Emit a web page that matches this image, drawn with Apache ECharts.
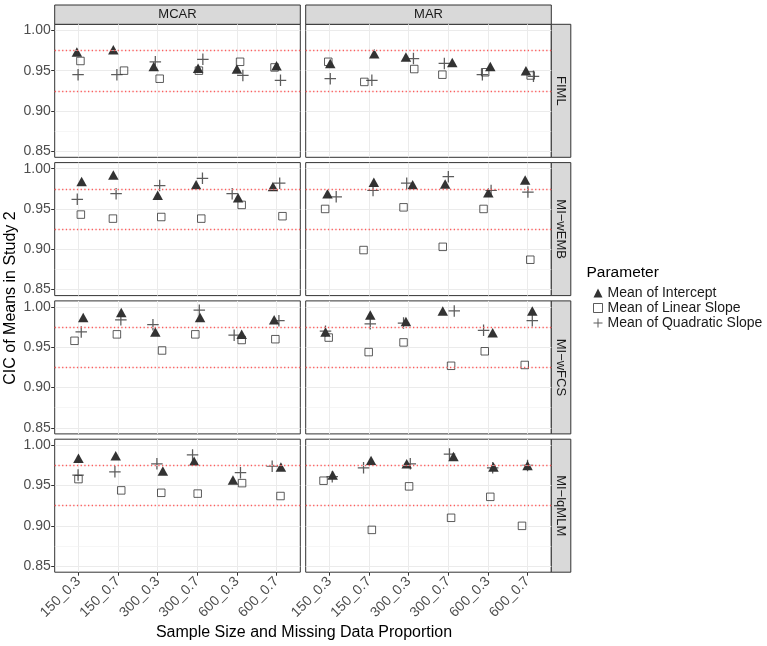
<!DOCTYPE html>
<html>
<head>
<meta charset="utf-8">
<script src="https://cdn.jsdelivr.net/npm/echarts@6/dist/echarts.min.js"></script>
<style>
  html, body { margin: 0; padding: 0; background: #fff; }
  #main { width: 767px; height: 646px; }
</style>
</head>
<body>
<div id="main"></div>
<script>
// x categories and facet labels
var categories = ['150_0.3', '150_0.7', '300_0.3', '300_0.7', '600_0.3', '600_0.7'];
var mechanisms = ['MCAR', 'MAR'];
var methods = ['FIML', 'MI\u2212wEMB', 'MI\u2212wFCS', 'MI\u2212lqMLM'];
var paramNames = ['Mean of Intercept', 'Mean of Linear Slope', 'Mean of Quadratic Slope'];
var yTicks = [0.85, 0.90, 0.95, 1.00];
var minorTicks = [0.875, 0.925, 0.975];
var refLines = [0.975, 0.925];

// one row per panel: FIML-MCAR, FIML-MAR, wEMB-MCAR, wEMB-MAR, wFCS-MCAR, wFCS-MAR, lqMLM-MCAR, lqMLM-MAR
var interceptValues = [
  [0.973, 0.976, 0.955, 0.953, 0.952, 0.956],
  [0.959, 0.971, 0.967, 0.960, 0.955, 0.950],
  [0.984, 0.992, 0.967, 0.980, 0.964, 0.978],
  [0.969, 0.983, 0.980, 0.981, 0.970, 0.986],
  [0.987, 0.993, 0.969, 0.987, 0.966, 0.984],
  [0.969, 0.990, 0.982, 0.995, 0.968, 0.995],
  [0.984, 0.987, 0.968, 0.980, 0.957, 0.973],
  [0.963, 0.981, 0.977, 0.986, 0.973, 0.975]
];
var linearValues = [
  [0.962, 0.950, 0.940, 0.950, 0.961, 0.954],
  [0.961, 0.936, 0.952, 0.945, 0.948, 0.944],
  [0.943, 0.938, 0.940, 0.938, 0.955, 0.941],
  [0.950, 0.899, 0.952, 0.903, 0.950, 0.887],
  [0.958, 0.966, 0.946, 0.966, 0.959, 0.960],
  [0.962, 0.944, 0.956, 0.927, 0.945, 0.928],
  [0.958, 0.944, 0.941, 0.940, 0.953, 0.937],
  [0.956, 0.895, 0.949, 0.910, 0.936, 0.900]
];
var quadraticValues = [
  [0.945, 0.945, 0.961, 0.964, 0.944, 0.938],
  [0.940, 0.938, 0.965, 0.959, 0.945, 0.943],
  [0.962, 0.969, 0.979, 0.988, 0.969, 0.982],
  [0.965, 0.973, 0.982, 0.990, 0.973, 0.971],
  [0.969, 0.984, 0.978, 0.996, 0.965, 0.983],
  [0.970, 0.979, 0.980, 0.995, 0.971, 0.983],
  [0.963, 0.967, 0.977, 0.988, 0.966, 0.974],
  [0.961, 0.972, 0.977, 0.989, 0.972, 0.975]
];

// horizontal jitter of each point (category units)
var interceptJitter = [
  [-0.04, -0.12, -0.10, 0.02, 0.00, 0.00],
  [0.02, 0.13, -0.07, 0.10, 0.06, -0.04],
  [0.08, -0.12, 0.00, -0.03, 0.03, -0.09],
  [-0.05, 0.12, 0.10, -0.08, 0.01, -0.06],
  [0.12, 0.08, -0.06, 0.07, 0.12, -0.06],
  [-0.10, 0.03, -0.07, -0.14, 0.12, 0.12],
  [0.00, -0.06, 0.13, -0.08, -0.10, 0.11],
  [0.08, 0.05, -0.05, 0.13, 0.14, 0.00]
];
var linearJitter = [
  [0.05, 0.15, 0.05, 0.04, 0.08, -0.05],
  [-0.03, -0.12, 0.14, -0.15, -0.07, 0.08],
  [0.06, -0.13, 0.09, 0.10, 0.12, 0.15],
  [-0.11, -0.14, -0.13, -0.14, -0.11, 0.07],
  [-0.10, -0.03, 0.11, -0.05, 0.12, -0.03],
  [-0.02, -0.01, -0.13, 0.07, -0.08, -0.07],
  [0.00, 0.08, 0.09, 0.01, 0.13, 0.10],
  [-0.15, 0.07, 0.01, 0.07, 0.06, -0.14]
];
var quadraticJitter = [
  [-0.01, -0.03, -0.06, 0.14, 0.15, 0.10],
  [0.02, 0.07, 0.12, -0.10, -0.14, 0.15],
  [-0.03, -0.05, 0.05, 0.13, -0.12, 0.08],
  [0.17, 0.10, -0.05, 0.00, 0.08, 0.01],
  [0.07, 0.07, -0.12, 0.05, -0.07, 0.06],
  [-0.10, 0.03, -0.13, 0.15, -0.11, 0.12],
  [-0.01, -0.08, -0.02, -0.12, 0.09, -0.11],
  [0.07, -0.14, 0.04, 0.03, 0.12, 0.00]
];

var FONT = '"Liberation Sans", Arial, Helvetica, sans-serif';
var PLUS = 'path://M4.45,0H5.55V4.45H10V5.55H5.55V10H4.45V5.55H0V4.45H4.45Z';

var colLeft = [54.7, 305.7];
var colWidth = 245.6;
var rowTop = [24.3, 162.6, 300.9, 439.2];
var rowHeight = 133;

var markers = [
  { symbol: 'triangle', symbolSize: [10.5, 9.5], itemStyle: { color: '#000' } },
  { symbol: 'rect', symbolSize: 7.5, itemStyle: { color: 'rgba(255,255,255,0)', borderColor: '#333', borderWidth: 1 } },
  { symbol: PLUS, symbolSize: 11.5, itemStyle: { color: '#333' } }
];
var valueSets = [interceptValues, linearValues, quadraticValues];
var jitterSets = [interceptJitter, linearJitter, quadraticJitter];
var xPos = categories.map(function (c, i) { return i + 1; });

var grids = [], xAxes = [], yAxes = [], series = [], graphics = [];

function hLines(values) {
  return values.map(function (v) { return { yAxis: v }; });
}

for (var r = 0; r < methods.length; r++) {
  for (var c = 0; c < mechanisms.length; c++) {
    var idx = r * 2 + c;
    grids.push({
      left: colLeft[c], top: rowTop[r], width: colWidth, height: rowHeight,
      show: true, backgroundColor: '#fff', borderColor: '#333', borderWidth: 1
    });
    xAxes.push({
      gridIndex: idx, type: 'value', min: 0.4, max: 6.6,
      axisLine: { show: false },
      axisTick: { show: r === 3, customValues: xPos, length: 3.5, lineStyle: { color: '#333' } },
      axisLabel: {
        show: r === 3, customValues: xPos, rotate: 45, margin: 7,
        fontSize: 14, color: '#4D4D4D', fontFamily: FONT,
        formatter: function (v) { return categories[Math.round(v) - 1]; }
      },
      splitLine: { show: true, lineStyle: { color: '#EBEBEB', width: 1 } }
    });
    yAxes.push({
      gridIndex: idx, type: 'value', min: 0.8425, max: 1.0075,
      axisLine: { show: false },
      axisTick: { show: c === 0, customValues: yTicks, length: 3.5, lineStyle: { color: '#333' } },
      axisLabel: {
        show: c === 0, customValues: yTicks, margin: 4,
        fontSize: 14, color: '#4D4D4D', fontFamily: FONT,
        formatter: function (v) { return v.toFixed(2); }
      },
      splitLine: { show: true, lineStyle: { color: '#EBEBEB', width: 1 } }
    });

    // minor grid lines
    series.push({
      type: 'scatter', xAxisIndex: idx, yAxisIndex: idx, data: [], silent: true, z: 1,
      markLine: {
        silent: true, symbol: 'none', animation: false, precision: 4, label: { show: false },
        lineStyle: { color: '#F0F0F0', width: 0.6, type: 'solid' },
        emphasis: { disabled: true },
        data: hLines(minorTicks)
      }
    });
    // red dotted reference lines
    series.push({
      type: 'scatter', xAxisIndex: idx, yAxisIndex: idx, data: [], silent: true, z: 2,
      markLine: {
        silent: true, symbol: 'none', animation: false, precision: 4, label: { show: false },
        lineStyle: { color: '#FF2A2A', width: 1.3, type: [1.3, 2.4], opacity: 0.75 },
        emphasis: { disabled: true },
        data: hLines(refLines)
      }
    });

    for (var k = 0; k < 3; k++) {
      var vals = valueSets[k][idx], jit = jitterSets[k][idx];
      series.push({
        name: paramNames[k], type: 'scatter', xAxisIndex: idx, yAxisIndex: idx, z: 3,
        symbol: markers[k].symbol, symbolSize: markers[k].symbolSize,
        itemStyle: markers[k].itemStyle,
        data: vals.map(function (v, i) { return [i + 1 + jit[i], v]; })
      });
    }
  }
}

// facet strips on top
mechanisms.forEach(function (m, c) {
  graphics.push({
    type: 'rect', shape: { x: colLeft[c], y: 5, width: colWidth, height: 19.3 },
    style: { fill: '#D9D9D9', stroke: '#333', lineWidth: 1 }
  });
  graphics.push({
    type: 'text', x: colLeft[c] + colWidth / 2, y: 14.8,
    style: { text: m, fill: '#1A1A1A', font: '13px ' + FONT, align: 'center', verticalAlign: 'middle' }
  });
});
// facet strips on the right
methods.forEach(function (m, r) {
  graphics.push({
    type: 'rect', shape: { x: 551.3, y: rowTop[r], width: 19.5, height: rowHeight },
    style: { fill: '#D9D9D9', stroke: '#333', lineWidth: 1 }
  });
  graphics.push({
    type: 'text', x: 561, y: rowTop[r] + rowHeight / 2, rotation: -Math.PI / 2,
    style: { text: m, fill: '#1A1A1A', font: '13px ' + FONT, align: 'center', verticalAlign: 'middle' }
  });
});
// axis titles
graphics.push({
  type: 'text', x: 304, y: 633,
  style: { text: 'Sample Size and Missing Data Proportion', fill: '#000', font: '16px ' + FONT, align: 'center', verticalAlign: 'middle' }
});
graphics.push({
  type: 'text', x: 11, y: 298, rotation: Math.PI / 2,
  style: { text: 'CIC of Means in Study 2', fill: '#000', font: '16px ' + FONT, align: 'center', verticalAlign: 'middle' }
});
// legend title
graphics.push({
  type: 'text', x: 586.5, y: 273,
  style: { text: 'Parameter', fill: '#000', font: '15.5px ' + FONT, align: 'left', verticalAlign: 'middle' }
});

var myChart = echarts.init(document.getElementById('main'));
myChart.setOption({
  animation: false,
  backgroundColor: '#fff',
  grid: grids,
  xAxis: xAxes,
  yAxis: yAxes,
  legend: {
    orient: 'vertical', left: 588, top: 281, itemWidth: 9, itemHeight: 9, itemGap: 1,
    selectedMode: false,
    textStyle: { fontSize: 14, color: '#1A1A1A', fontFamily: FONT },
    data: [
      { name: paramNames[0], icon: 'triangle', itemStyle: { color: '#000' } },
      { name: paramNames[1], icon: 'rect', itemStyle: { color: '#fff', borderColor: '#333', borderWidth: 1 } },
      { name: paramNames[2], icon: PLUS, itemStyle: { color: '#333' } }
    ]
  },
  graphic: graphics,
  series: series
});
</script>
</body>
</html>
